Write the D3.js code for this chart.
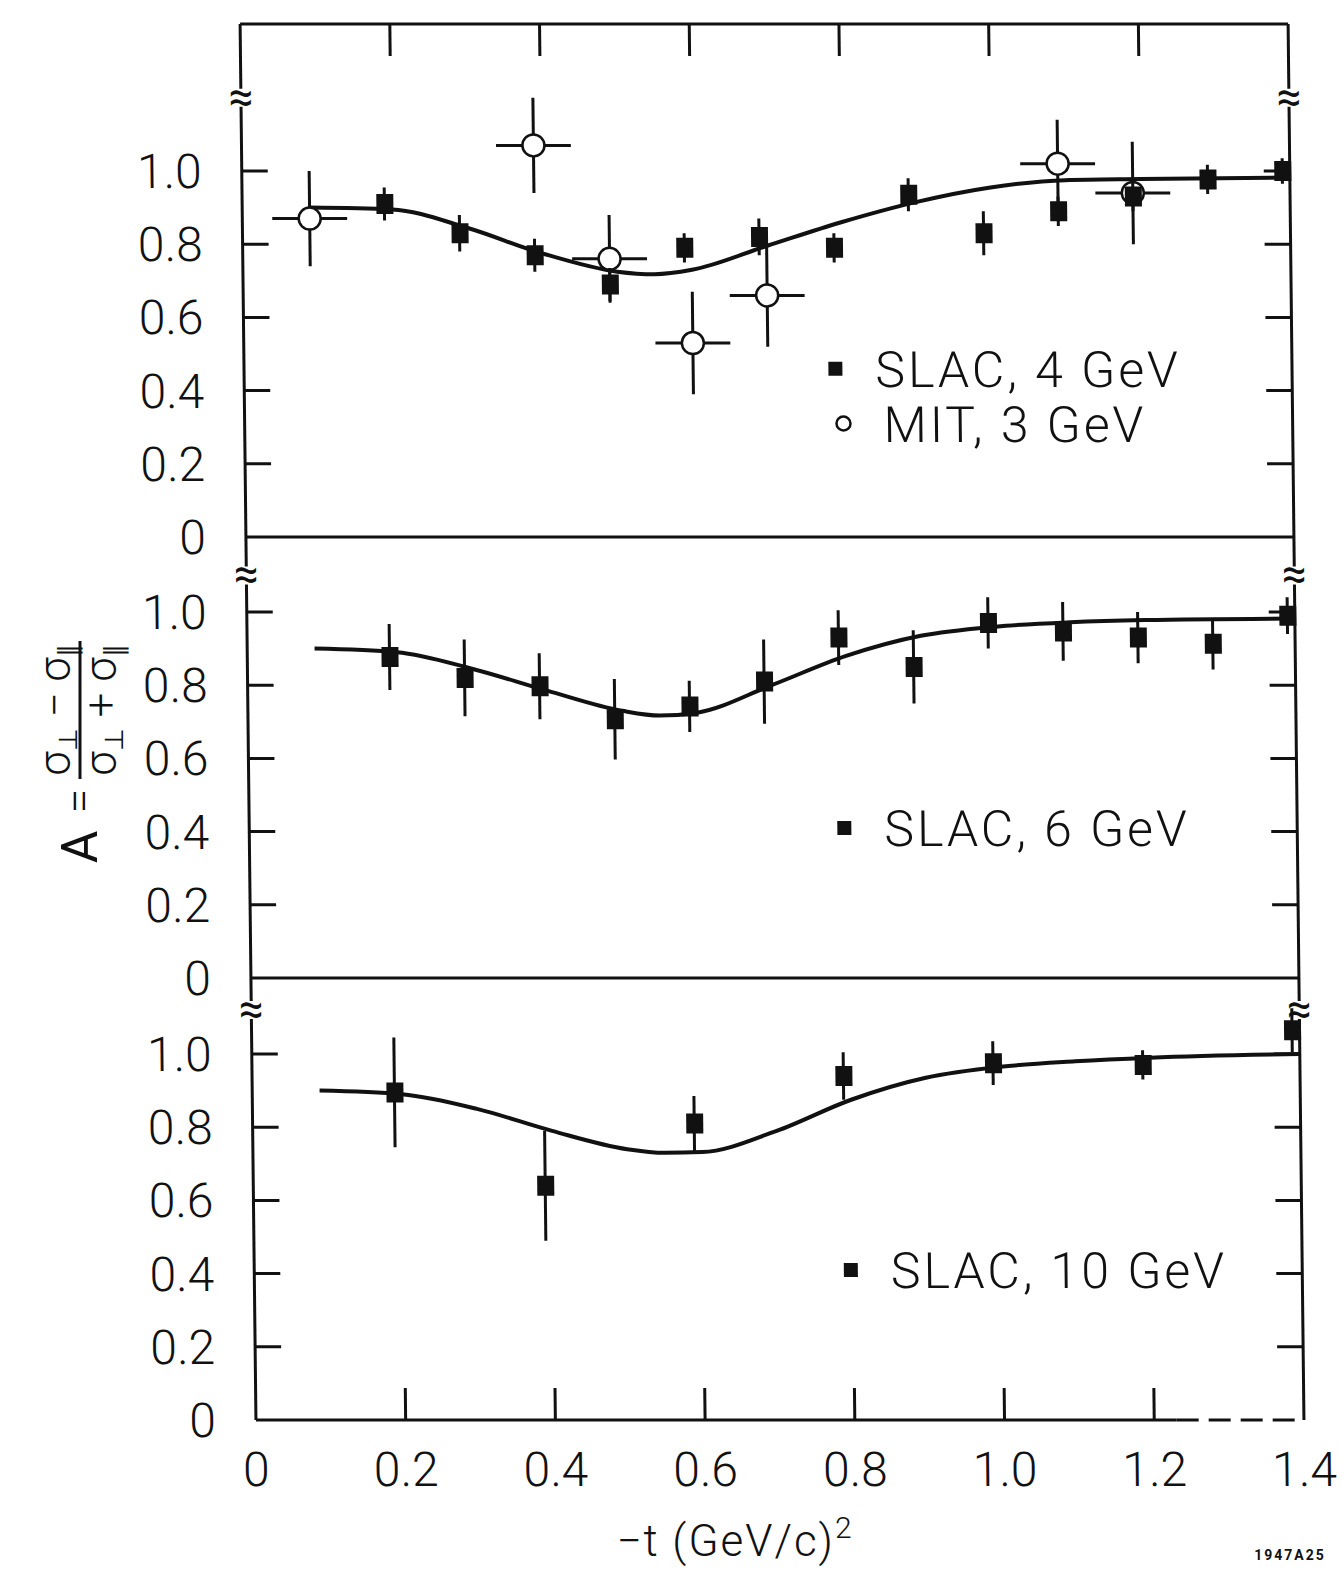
<!DOCTYPE html>
<html>
<head>
<meta charset="utf-8">
<script src="https://cdn.jsdelivr.net/npm/d3@7"></script>
<style>
  body { margin: 0; background: #fff; }
  svg text { font-family: Roboto, "DejaVu Sans", sans-serif; font-weight: 300; fill: #111; }
</style>
</head>
<body>
<svg width="1342" height="1571"></svg>
<script>
// ---- data ----
var xTicks = [0.2, 0.4, 0.6, 0.8, 1.0, 1.2];
var xTickLabels = ["0", "0.2", "0.4", "0.6", "0.8", "1.0", "1.2", "1.4"];
var xLabelValues = [0, 0.2, 0.4, 0.6, 0.8, 1.0, 1.2, 1.4];
var yTicks = [0.2, 0.4, 0.6, 0.8, 1.0];
var yTickLabels = ["0", "0.2", "0.4", "0.6", "0.8", "1.0"];
var yLabelValues = [0, 0.2, 0.4, 0.6, 0.8, 1.0];

// [-t, A, dA]
var slac4 = [
  [0.19, 0.91, 0.045], [0.29, 0.83, 0.05], [0.39, 0.77, 0.045], [0.49, 0.69, 0.045],
  [0.59, 0.79, 0.04], [0.69, 0.82, 0.05], [0.79, 0.79, 0.04], [0.89, 0.935, 0.045],
  [0.99, 0.83, 0.06], [1.09, 0.89, 0.04], [1.19, 0.93, 0.04], [1.29, 0.977, 0.04],
  [1.39, 1.0, 0.035]
];
// [-t, A, d(-t), dA]
var mit3 = [
  [0.09, 0.87, 0.05, 0.13], [0.39, 1.07, 0.05, 0.13], [0.49, 0.76, 0.05, 0.12],
  [0.60, 0.53, 0.05, 0.14], [0.70, 0.66, 0.05, 0.14], [1.09, 1.02, 0.05, 0.12],
  [1.19, 0.94, 0.05, 0.14]
];
var slac6 = [
  [0.19, 0.877, 0.09], [0.29, 0.82, 0.105], [0.39, 0.797, 0.09], [0.49, 0.707, 0.11],
  [0.59, 0.742, 0.07], [0.69, 0.81, 0.115], [0.79, 0.93, 0.075], [0.89, 0.85, 0.1],
  [0.99, 0.97, 0.07], [1.09, 0.947, 0.08], [1.19, 0.93, 0.07], [1.29, 0.913, 0.07],
  [1.39, 0.99, 0.05]
];
var slac10 = [
  [0.19, 0.895, 0.15], [0.39, 0.64, 0.15], [0.59, 0.81, 0.075], [0.79, 0.94, 0.065],
  [0.99, 0.975, 0.06], [1.19, 0.97, 0.04], [1.39, 1.065, 0.06]
];
// theory curves, knots
var fit4 = [
  [0.09, 0.90], [0.2, 0.895], [0.3, 0.845], [0.4, 0.775], [0.5, 0.725], [0.55, 0.718],
  [0.6, 0.73], [0.7, 0.795], [0.8, 0.86], [0.9, 0.915], [1.0, 0.955], [1.1, 0.975],
  [1.2, 0.978], [1.4, 0.982]
];
var fit6 = [
  [0.09, 0.90], [0.2, 0.89], [0.3, 0.845], [0.4, 0.785], [0.5, 0.73], [0.55, 0.717],
  [0.6, 0.725], [0.7, 0.80], [0.8, 0.88], [0.9, 0.935], [1.0, 0.96], [1.1, 0.972],
  [1.2, 0.978], [1.4, 0.982]
];
var fit10 = [
  [0.09, 0.90], [0.2, 0.89], [0.3, 0.85], [0.4, 0.79], [0.5, 0.74], [0.55, 0.73],
  [0.6, 0.732], [0.7, 0.79], [0.8, 0.875], [0.9, 0.935], [1.0, 0.965], [1.1, 0.98],
  [1.2, 0.99], [1.4, 1.0]
];

// ---- layout ----
var svg = d3.select("svg");
var left = 248, right = 1296, unit = 366;
var frameTop = 24;
var x = d3.scaleLinear().domain([0, 1.4]).range([left, right]);

// slight skew like the scanned original
var skew = 0.65;
var chart = svg.append("g")
    .attr("transform", "translate(" + (-720 * Math.tan(skew * Math.PI / 180)) + ",0) skewX(" + skew + ")");

var panels = [
  { bottom: 537, top: frameTop, squares: slac4, circles: mit3, fit: fit4,
    legend: [{ sym: "sq", x: 0.79, v: 0.46, label: "SLAC, 4 GeV" },
             { sym: "ci", x: 0.80, v: 0.31, label: "MIT, 3 GeV" }],
    brk: 1.2 },
  { bottom: 978, top: 537, squares: slac6, circles: [], fit: fit6,
    legend: [{ sym: "sq", x: 0.795, v: 0.41, label: "SLAC, 6 GeV" }],
    brk: 1.1 },
  { bottom: 1420, top: 978, squares: slac10, circles: [], fit: fit10,
    legend: [{ sym: "sq", x: 0.797, v: 0.41, label: "SLAC, 10 GeV" }],
    brk: 1.12 }
];

var ink = "#111";

// frame
chart.append("line").attr("x1", left).attr("x2", right).attr("y1", frameTop).attr("y2", frameTop)
    .attr("stroke", ink).attr("stroke-width", 3);
chart.append("line").attr("x1", left).attr("x2", left).attr("y1", frameTop).attr("y2", 1420)
    .attr("stroke", ink).attr("stroke-width", 3);
chart.append("line").attr("x1", right).attr("x2", right).attr("y1", frameTop).attr("y2", 1420)
    .attr("stroke", ink).attr("stroke-width", 3);

// top ticks
chart.selectAll(".ttick").data(xTicks).enter().append("line")
    .attr("x1", function(d) { return x(d); }).attr("x2", function(d) { return x(d); })
    .attr("y1", frameTop).attr("y2", frameTop + 32)
    .attr("stroke", ink).attr("stroke-width", 3);

panels.forEach(function(p, i) {
  var y = d3.scaleLinear().domain([0, 1]).range([p.bottom, p.bottom - unit]);
  var g = chart.append("g");

  // bottom line of panel
  if (i < 2) {
    g.append("line").attr("x1", left).attr("x2", right).attr("y1", p.bottom).attr("y2", p.bottom)
        .attr("stroke", ink).attr("stroke-width", 3);
  } else {
    g.append("line").attr("x1", left).attr("x2", x(1.23)).attr("y1", p.bottom).attr("y2", p.bottom)
        .attr("stroke", ink).attr("stroke-width", 3);
    g.append("line").attr("x1", x(1.23)).attr("x2", right).attr("y1", p.bottom).attr("y2", p.bottom)
        .attr("stroke", ink).attr("stroke-width", 3).attr("stroke-dasharray", "22,10");
    g.selectAll(".btick").data(xTicks).enter().append("line")
        .attr("x1", function(d) { return x(d); }).attr("x2", function(d) { return x(d); })
        .attr("y1", p.bottom).attr("y2", p.bottom - 32)
        .attr("stroke", ink).attr("stroke-width", 3);
  }

  // y ticks, both sides
  g.selectAll(".lt").data(yTicks).enter().append("line")
      .attr("x1", left).attr("x2", left + 26)
      .attr("y1", function(d) { return y(d); }).attr("y2", function(d) { return y(d); })
      .attr("stroke", ink).attr("stroke-width", 3);
  g.selectAll(".rt").data(yTicks).enter().append("line")
      .attr("x1", right).attr("x2", right - 26)
      .attr("y1", function(d) { return y(d); }).attr("y2", function(d) { return y(d); })
      .attr("stroke", ink).attr("stroke-width", 3);

  g.selectAll(".yl").data(yLabelValues).enter().append("text")
      .attr("x", left - 40)
      .attr("y", function(d) { return y(d) + 17; })
      .attr("text-anchor", "end")
      .style("font-size", "48px")
      .text(function(d, j) { return yTickLabels[j]; });

  // axis break marks
  [left, right].forEach(function(ax) {
    g.append("rect").attr("x", ax - 6).attr("y", y(p.brk) - 9).attr("width", 12).attr("height", 18)
        .attr("fill", "#fff");
    g.append("text").attr("x", ax).attr("y", y(p.brk) + 14)
        .attr("text-anchor", "middle").style("font-size", "44px").style("font-weight", 400)
        .text("\u2248");
  });

  // fit curve
  var line = d3.line()
      .x(function(d) { return x(d[0]); })
      .y(function(d) { return y(d[1]); })
      .curve(d3.curveMonotoneX);
  g.append("path").attr("d", line(p.fit))
      .attr("fill", "none").attr("stroke", ink).attr("stroke-width", 4);

  // MIT points
  g.selectAll(".mh").data(p.circles).enter().append("line")
      .attr("x1", function(d) { return x(d[0] - d[2]); }).attr("x2", function(d) { return x(d[0] + d[2]); })
      .attr("y1", function(d) { return y(d[1]); }).attr("y2", function(d) { return y(d[1]); })
      .attr("stroke", ink).attr("stroke-width", 3);
  g.selectAll(".mv").data(p.circles).enter().append("line")
      .attr("x1", function(d) { return x(d[0]); }).attr("x2", function(d) { return x(d[0]); })
      .attr("y1", function(d) { return y(d[1] - d[3]); }).attr("y2", function(d) { return y(d[1] + d[3]); })
      .attr("stroke", ink).attr("stroke-width", 3);
  g.selectAll(".mc").data(p.circles).enter().append("circle")
      .attr("cx", function(d) { return x(d[0]); }).attr("cy", function(d) { return y(d[1]); })
      .attr("r", 11).attr("fill", "#fff").attr("stroke", ink).attr("stroke-width", 2.5);

  // SLAC points
  g.selectAll(".sv").data(p.squares).enter().append("line")
      .attr("x1", function(d) { return x(d[0]); }).attr("x2", function(d) { return x(d[0]); })
      .attr("y1", function(d) { return y(d[1] - d[2]); }).attr("y2", function(d) { return y(d[1] + d[2]); })
      .attr("stroke", ink).attr("stroke-width", 3);
  g.selectAll(".sq").data(p.squares).enter().append("rect")
      .attr("x", function(d) { return x(d[0]) - 8; }).attr("y", function(d) { return y(d[1]) - 10; })
      .attr("width", 17).attr("height", 20).attr("fill", ink);

  // legend
  p.legend.forEach(function(l) {
    var lx = x(l.x), ly = y(l.v);
    if (l.sym === "sq") {
      g.append("rect").attr("x", lx - 7).attr("y", ly - 7).attr("width", 14).attr("height", 14).attr("fill", ink);
    } else {
      g.append("circle").attr("cx", lx).attr("cy", ly).attr("r", 7)
          .attr("fill", "#fff").attr("stroke", ink).attr("stroke-width", 2.5);
    }
    g.append("text").attr("x", lx + 40).attr("y", ly + 18)
        .style("font-size", "50px").style("letter-spacing", "3px")
        .text(l.label);
  });
});

// x tick labels under the bottom panel
chart.selectAll(".xl").data(xLabelValues).enter().append("text")
    .attr("x", function(d) { return x(d); })
    .attr("y", 1486)
    .attr("text-anchor", "middle")
    .style("font-size", "48px")
    .text(function(d, j) { return xTickLabels[j]; });

// x title
var xt = svg.append("text").attr("x", 735).attr("y", 1556).attr("text-anchor", "middle")
    .style("font-size", "44px").style("letter-spacing", "2px");
xt.append("tspan").text("\u2212t  (GeV/c)");
xt.append("tspan").attr("dy", -18).style("font-size", "30px").text("2");

// y title: A = (σ⊥ − σ∥)/(σ⊥ + σ∥)
var yt = svg.append("g").attr("transform", "translate(80,757) rotate(-90)");
yt.append("text").attr("x", -90).attr("y", 17).attr("text-anchor", "middle")
    .style("font-size", "50px").style("font-weight", 400).text("A");
yt.append("text").attr("x", -44).attr("y", 14).attr("text-anchor", "middle")
    .style("font-size", "44px").text("=");
yt.append("line").attr("x1", -22).attr("x2", 116).attr("y1", 0).attr("y2", 0)
    .attr("stroke", ink).attr("stroke-width", 3);
function sigmaTerm(sel, op) {
  sel.append("tspan").text("\u03C3");
  sel.append("tspan").attr("dy", 7).style("font-size", "26px").text("\u22A5");
  sel.append("tspan").attr("dy", -7).text(" " + op + " \u03C3");
  sel.append("tspan").attr("dy", 7).style("font-size", "26px").text("\u2225");
}
var num = yt.append("text").attr("x", 47).attr("y", -10).attr("text-anchor", "middle")
    .style("font-size", "44px");
sigmaTerm(num, "\u2212");
var den = yt.append("text").attr("x", 47).attr("y", 36).attr("text-anchor", "middle")
    .style("font-size", "44px");
sigmaTerm(den, "+");

// figure id
svg.append("text").attr("x", 1290).attr("y", 1560).attr("text-anchor", "middle")
    .style("font-size", "14px").style("font-weight", 700).style("letter-spacing", "2px")
    .text("1947A25");
</script>
</body>
</html>
